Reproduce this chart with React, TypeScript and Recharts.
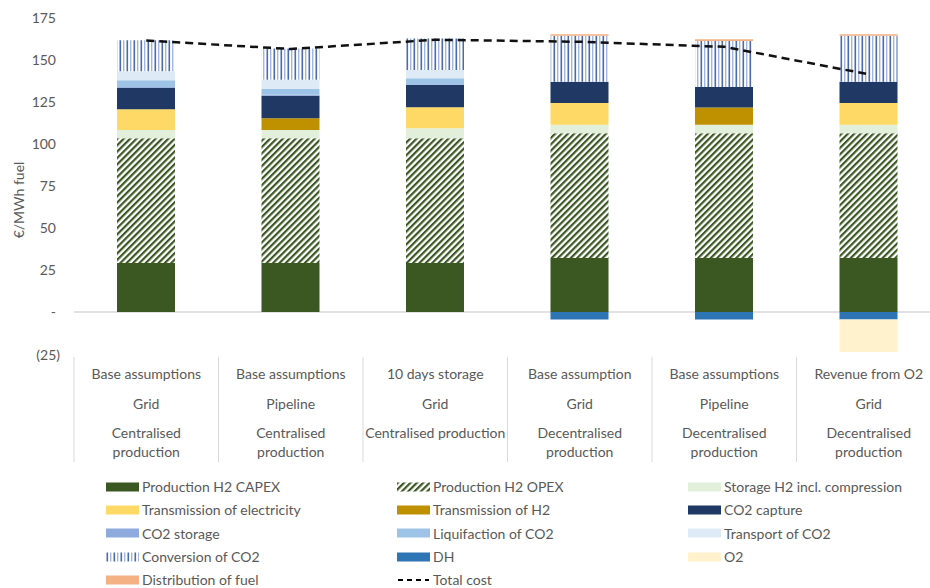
import React from "react";
import { Bar, CartesianGrid, ComposedChart, Line, XAxis, YAxis } from "recharts";

// scenario rows under each column
const scenarioLabels = ["Base assumptions", "Base assumptions", "10 days storage", "Base assumption", "Base assumptions", "Revenue from O2"];
const transportLabels = ["Grid", "Pipeline", "Grid", "Grid", "Pipeline", "Grid"];
const productionLabels = [
  "Centralised\nproduction",
  "Centralised\nproduction",
  "Centralised production",
  "Decentralised\nproduction",
  "Decentralised\nproduction",
  "Decentralised\nproduction",
];

// cost components, €/MWh fuel
const h2Capex = [29, 29, 29, 32, 32, 32];
const h2Opex = [74, 74, 74, 74, 74, 74];
const h2Storage = [5, 5, 6, 5, 5, 5];
const elecTransmission = [12.3, 0, 12.4, 13, 0, 13];
const h2Transmission = [0, 6.9, 0, 0, 10.3, 0];
const co2Capture = [12.7, 13.4, 13.2, 12.6, 12.2, 12.6];
const co2Storage = [0.5, 0.5, 0.5, 0, 0, 0];
const co2Liquifaction = [4, 3.5, 3.5, 0, 0, 0];
const co2Transport = [5.3, 5.5, 4.9, 0, 0, 0];
const co2Conversion = [18.4, 18.5, 18.8, 27.2, 27.3, 27.2];
const districtHeat = [0, 0, 0, -4.5, -4.5, -4.5];
const oxygen = [0, 0, 0, 0, 0, -19.3];
const fuelDistribution = [0, 0, 0, 1, 1, 1];
const totalCost = [161, 156, 161.5, 160.3, 157.3, 141];

const yTicks = [-25, 0, 25, 50, 75, 100, 125, 150, 175];

const series = [
  { key: "capex", name: "Production H2 CAPEX", values: h2Capex, fill: "#3B5823" },
  { key: "opex", name: "Production H2 OPEX", values: h2Opex, fill: "url(#opexHatch)" },
  { key: "storage", name: "Storage H2 incl. compression", values: h2Storage, fill: "#E2EFDA" },
  { key: "elec", name: "Transmission of electricity", values: elecTransmission, fill: "#FFD966" },
  { key: "h2trans", name: "Transmission of H2", values: h2Transmission, fill: "#BF9000" },
  { key: "capture", name: "CO2 capture", values: co2Capture, fill: "#203864" },
  { key: "co2storage", name: "CO2 storage", values: co2Storage, fill: "#8FAADC" },
  { key: "liquid", name: "Liquifaction of CO2", values: co2Liquifaction, fill: "#9DC3E6" },
  { key: "co2trans", name: "Transport of CO2", values: co2Transport, fill: "#DEEBF7" },
  { key: "conversion", name: "Conversion of CO2", values: co2Conversion, fill: "url(#conversionLines)" },
  { key: "dh", name: "DH", values: districtHeat, fill: "#2E75B6" },
  { key: "o2", name: "O2", values: oxygen, fill: "#FFF2CC" },
  { key: "distribution", name: "Distribution of fuel", values: fuelDistribution, fill: "#F4B183" },
];

const data = scenarioLabels.map((name, i) => {
  const row: Record<string, number | string> = { name, total: totalCost[i] };
  series.forEach((s) => (row[s.key] = s.values[i]));
  return row;
});

const FONT = "Lato, 'Liberation Sans', sans-serif";
const FONT_SIZE = 14;
const TEXT = "#595959";
const WIDTH = 960;
const HEIGHT = 470;
const MARGIN = { top: 17, right: 19, left: 0, bottom: 6 };
const Y_AXIS_W = 74;
const BAND = (WIDTH - MARGIN.left - MARGIN.right - Y_AXIS_W) / scenarioLabels.length;

function ValueTick(props: any) {
  const { x, y, payload } = props;
  const v = payload.value as number;
  const label = v === 0 ? "-" : v < 0 ? `(${-v})` : `${v}`;
  return (
    <text x={x + (v < 0 ? 4 : 0)} y={y} textAnchor="end" dominantBaseline="central" fill={TEXT} fontSize={FONT_SIZE} fontFamily={FONT}>
      {label}
    </text>
  );
}

function CategoryTick(props: any) {
  const { x, y, payload } = props;
  const i = payload.index;
  const lines = [scenarioLabels[i], transportLabels[i], ...productionLabels[i].split("\n")];
  const offsets = [17.5, 47.5, 76.5, 95];
  const last = i === scenarioLabels.length - 1;
  return (
    <g>
      <line x1={x - BAND / 2} x2={x - BAND / 2} y1={y + 1} y2={y + 106} stroke="#D9D9D9" />
      {last && <line x1={x + BAND / 2} x2={x + BAND / 2} y1={y + 1} y2={y + 106} stroke="#D9D9D9" />}
      {lines.map((t, k) => (
        <text key={k} x={x} y={y + offsets[k]} textAnchor="middle" dominantBaseline="central" fill={TEXT} fontSize={FONT_SIZE} fontFamily={FONT}>
          {t}
        </text>
      ))}
    </g>
  );
}

function Swatch({ fill, dashed }: { fill: string; dashed?: boolean }) {
  return (
    <svg width={33} height={10} style={{ flex: "none" }}>
      {dashed ? (
        <line x1={1} x2={32} y1={5} y2={5} stroke="#000" strokeWidth={2} strokeDasharray="5 4" />
      ) : (
        <rect x={0} y={0.5} width={33} height={9} fill={fill} />
      )}
    </svg>
  );
}

function ChartLegend() {
  const items = [
    ...series.map((s) => ({ name: s.name, fill: s.fill, dashed: false })),
    { name: "Total cost", fill: "none", dashed: true },
  ];
  return (
    <div
      style={{
        position: "absolute",
        left: 106,
        top: 475,
        display: "grid",
        gridTemplateColumns: "291px 291px 240px",
        gridAutoRows: "23.3px",
        fontFamily: FONT,
        fontSize: FONT_SIZE,
        color: TEXT,
      }}
    >
      {items.map((it) => (
        <div key={it.name} style={{ display: "flex", alignItems: "center", gap: 3, whiteSpace: "nowrap" }}>
          <Swatch fill={it.fill} dashed={it.dashed} />
          <span>{it.name}</span>
        </div>
      ))}
    </div>
  );
}

export default function App() {
  return (
    <div style={{ position: "absolute", left: 0, top: 0, width: 930, height: 588, overflow: "hidden", background: "#fff" }}>
      <ComposedChart width={WIDTH} height={HEIGHT} data={data} margin={MARGIN} stackOffset="sign" barSize={58}>
        <defs>
          <pattern id="opexHatch" width="4.5" height="4.5" patternUnits="userSpaceOnUse" patternTransform="rotate(45)">
            <rect width="4.5" height="4.5" fill="#fff" />
            <rect width="2.2" height="4.5" fill="#3B5823" />
          </pattern>
          <pattern id="conversionLines" width="7" height="10" patternUnits="userSpaceOnUse">
            <rect width="7" height="10" fill="#fff" />
            <rect x="0.5" width="1.6" height="10" fill="#4A6AAE" />
            <rect x="4" width="1.4" height="10" fill="#A3B6DD" />
          </pattern>
        </defs>
        <CartesianGrid vertical={false} horizontalValues={[0]} stroke="#D9D9D9" strokeWidth={1.5} />
        <XAxis dataKey="name" axisLine={false} tickLine={false} tickSize={0} height={110} interval={0} tick={<CategoryTick />} />
        <YAxis
          width={Y_AXIS_W}
          domain={[-25, 175]}
          ticks={yTicks}
          axisLine={false}
          tickLine={false}
          tickSize={0}
          tickMargin={18}
          tick={<ValueTick />}
        />
        {series.map((s) => (
          <Bar key={s.key} dataKey={s.key} name={s.name} stackId="cost" fill={s.fill} isAnimationActive={false} />
        ))}
        <Line
          dataKey="total"
          name="Total cost"
          type="linear"
          stroke="#111"
          strokeWidth={2.5}
          strokeDasharray="8 5"
          dot={false}
          activeDot={false}
          isAnimationActive={false}
        />
      </ComposedChart>
      <div
        style={{
          position: "absolute",
          left: 18,
          top: 200,
          transform: "translate(-50%, -50%) rotate(-90deg)",
          fontFamily: FONT,
          fontSize: FONT_SIZE,
          color: TEXT,
          whiteSpace: "nowrap",
        }}
      >
        €/MWh fuel
      </div>
      <ChartLegend />
    </div>
  );
}
